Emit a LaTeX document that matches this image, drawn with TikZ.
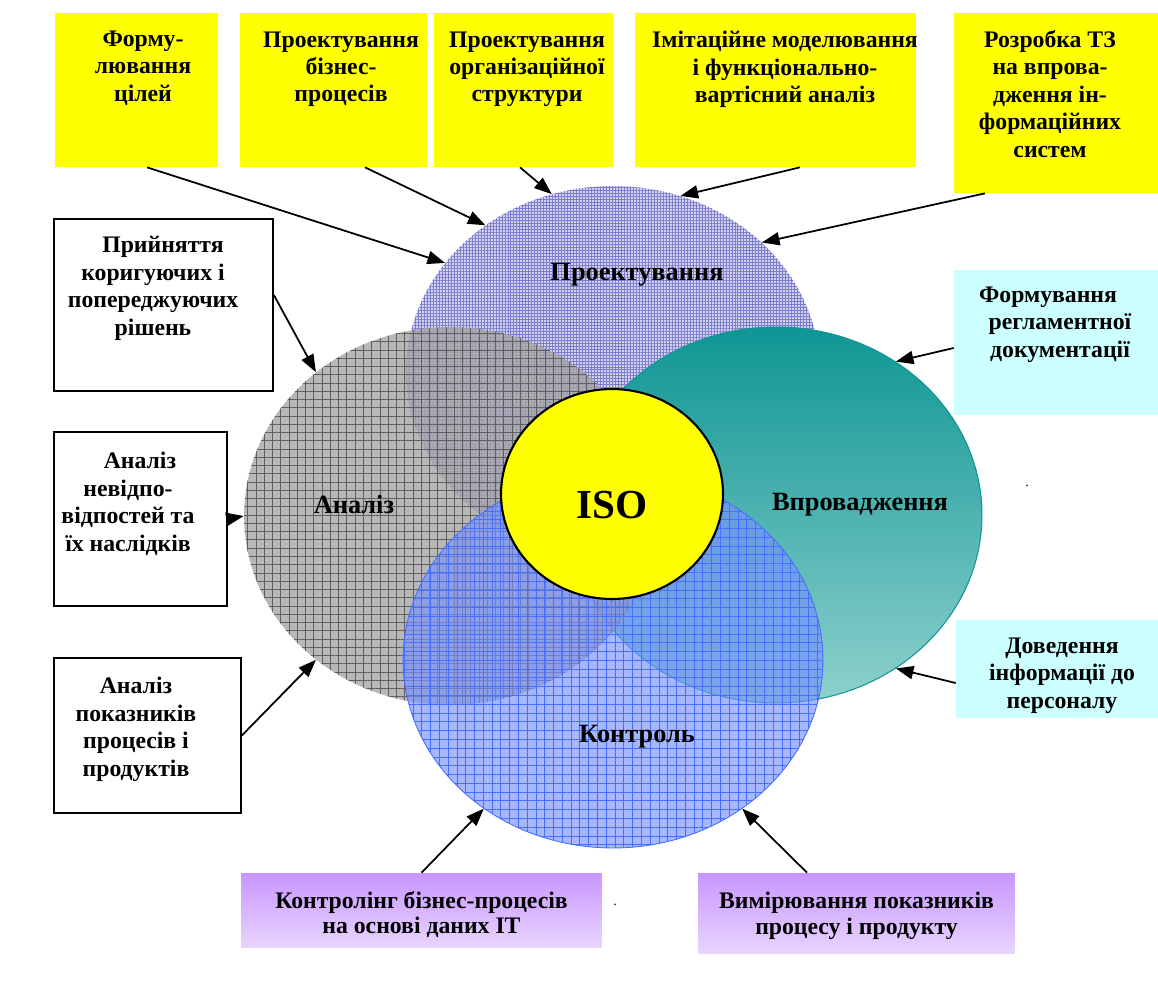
\documentclass[tikz,border=0pt]{standalone}
\usepackage{fontspec}
\setmainfont{Liberation Serif}
\definecolor{boxyellow}{RGB}{255, 255, 0}
\definecolor{boxcyan}{RGB}{204, 255, 255}
\definecolor{purpletop}{RGB}{200, 150, 255}
\definecolor{purplebot}{RGB}{232, 212, 255}
\definecolor{lavfill}{RGB}{210, 210, 240}
\definecolor{lavgrid}{RGB}{125, 125, 205}
\definecolor{grayfill}{RGB}{165, 165, 165}
\definecolor{graygrid}{RGB}{95, 95, 95}
\definecolor{tealtop}{RGB}{14, 150, 148}
\definecolor{tealbot}{RGB}{142, 208, 205}
\definecolor{bluefill}{RGB}{118, 145, 255}
\definecolor{bluegrid}{RGB}{70, 110, 255}
\usetikzlibrary{shapes.geometric, arrows.meta, positioning, patterns.meta}

\begin{document}
\begin{tikzpicture}[x=0.02cm, y=-0.02cm,
  ybox/.style={fill=boxyellow, inner sep=0pt},
  cbox/.style={fill=boxcyan, inner sep=0pt},
  wbox/.style={draw, line width=1pt, fill=white, inner sep=0pt},
  pbox/.style={top color=purpletop, bottom color=purplebot, inner sep=0pt},
  txt/.style={inner sep=0pt, align=center, font=\bfseries\fontsize{13.5}{15.6}\selectfont},
  lbl/.style={inner sep=0pt, anchor=base, font=\bfseries\fontsize{15}{18}\selectfont},
  zone/.style={ellipse, inner sep=0pt},
  arr/.style={-{Triangle[length=10pt, width=7.5pt]}, line width=1pt}
]
  \useasboundingbox (0,0) rectangle (1158,994);

  \node[ybox, minimum width=3.26cm, minimum height=3.08cm] (b1) at (136.5,90) {};
  \node[ybox, minimum width=3.74cm, minimum height=3.08cm] (b2) at (333.5,90) {};
  \node[ybox, minimum width=3.58cm, minimum height=3.08cm] (b3) at (523.5,90) {};
  \node[ybox, minimum width=5.62cm, minimum height=3.08cm] (b4) at (775.5,90) {};
  \node[ybox, minimum width=4.08cm, minimum height=3.6cm] (b5) at (1056,103) {};
  \node[wbox, minimum width=4.38cm, minimum height=3.44cm] (b6) at (163.5,305) {};
  \node[wbox, minimum width=3.46cm, minimum height=3.48cm] (b7) at (140.5,519) {};
  \node[wbox, minimum width=3.74cm, minimum height=3.1cm] (b8) at (147.5,735.5) {};
  \node[cbox, minimum width=4.08cm, minimum height=2.9cm] (b9) at (1056,342.5) {};
  \node[cbox, minimum width=4.04cm, minimum height=1.96cm] (b10) at (1057,669) {};
  \node[pbox, minimum width=7.22cm, minimum height=1.48cm] (b11) at (421.5,910) {};
  \node[pbox, minimum width=6.34cm, minimum height=1.6cm] (b12) at (856.5,913) {};

  \node[txt, below=0.36cm of b1.north, xshift=0.13cm] (t1) {Форму-\\лювання\\цілей};
  \node[txt, below=0.37cm of b2.north, xshift=0.15cm] (t2) {Проектування\\бізнес-\\процесів};
  \node[txt, below=0.37cm of b3.north, xshift=0.07cm] (t3) {Проектування\\організаційної\\структури};
  \begin{scope}
    \clip (b4.north west) rectangle (b4.south east);
    \node[txt, below=0.37cm of b4.north, xshift=0.19cm] (t4) {Імітаційне моделювання\\і функціонально-\\вартісний аналіз};
  \end{scope}
  \node[txt, below=0.35cm of b5.north, xshift=-0.12cm] (t5) {Розробка ТЗ\\на впрова-\\дження ін-\\формаційних\\систем};
  \node[txt, below=0.36cm of b6.north, xshift=-0.21cm] (t6) {\hspace*{0.4cm}Прийняття\\коригуючих і\\попереджуючих\\рішень};
  \node[txt, below=0.42cm of b7.north, xshift=-0.25cm] (t7) {\hspace*{0.48cm}Аналіз\\невідпо-\\відпостей та\\їх наслідків};
  \node[txt, below=0.4cm of b8.north, xshift=-0.23cm] (t8) {Аналіз\\показників\\процесів і\\продуктів};
  \node[txt, below=0.34cm of b9.north, xshift=0.08cm] (t9) {Формування\hspace*{0.48cm}\\регламентної\\документації};
  \node[txt, below=0.36cm of b10.north, xshift=0.1cm] (t10) {Доведення\\інформації до\\персоналу};
  \node[txt, below=0.36cm of b11.north, font=\bfseries\fontsize{13.5}{14.6}\selectfont] (t11) {Контролінг бізнес-процесів\\на основі даних ІТ};
  \node[txt, below=0.38cm of b12.north, font=\bfseries\fontsize{13.5}{15}\selectfont] (t12) {Вимірювання показників\\процесу і продукту};

  \node[zone, minimum width=8.28cm, minimum height=7.44cm, preaction={fill=lavfill},
    pattern={Hatch[distance=1.7pt, line width=0.3pt]}, pattern color=lavgrid] (proj) at (613,372) {};
  \node[zone, minimum width=8.24cm, minimum height=7.52cm, top color=tealtop, bottom color=tealbot,
    draw=tealtop, line width=0.6pt] (vpr) at (776,515) {};
  \node[zone, minimum width=8.24cm, minimum height=7.56cm, fill opacity=0.8, preaction={fill=grayfill, fill opacity=0.8},
    pattern={Hatch[distance=4.7pt, line width=0.4pt]}, pattern color=graygrid] (anal) at (450,516) {};
  \node[zone, minimum width=8.4cm, minimum height=7.52cm, fill opacity=0.65, preaction={fill=bluefill, fill opacity=0.65},
    pattern={Hatch[distance=5pt, line width=0.35pt]}, pattern color=bluegrid, draw=bluegrid, line width=0.5pt] (kontr) at (613,660) {};
  \node[zone, minimum width=4.44cm, minimum height=4.2cm, fill=boxyellow, draw, line width=1.2pt] (iso) at (612,494) {};

  \node[lbl] (lproj) at (637,280) {Проектування};
  \node[lbl] (lanal) at (354,513) {Аналіз};
  \node[lbl] (lvpr) at (860,510) {Впровадження};
  \node[lbl] (lkontr) at (637,742) {Контроль};
  \node[lbl, font=\bfseries\fontsize{23.5}{28}\selectfont] (liso) at (612.5,518) {ISO};
  \node[inner sep=0pt, font=\fontsize{8}{8}\selectfont] (dot1) at (1027,486) {.};
  \node[inner sep=0pt, font=\fontsize{8}{8}\selectfont] (dot2) at (615,905) {.};

  \draw[arr] ([xshift=0.21cm]b1.south) -- (proj.147);
  \draw[arr] ([xshift=0.63cm]b2.south) -- (proj.131);
  \draw[arr] ([xshift=-0.07cm]b3.south) -- (proj.109);
  \draw[arr] ([xshift=0.49cm]b4.south) -- (proj.69);
  \draw[arr] ([xshift=-1.42cm]b5.south) -- (proj.41);
  \draw[arr] ([yshift=0.2cm]b6.east) -- (anal.133);
  \draw[arr] (b7.east) -- (anal.180);
  \draw[arr] (b8.east) -- (anal.227);
  \draw[arr] ([yshift=-0.11cm]b9.west) -- (vpr.52);
  \draw[arr] ([yshift=-0.28cm]b10.west) -- (vpr.308);
  \draw[arr] (b11.north) -- (kontr.229);
  \draw[arr] ([xshift=-0.99cm]b12.north) -- (kontr.311);
\end{tikzpicture}
\end{document}
